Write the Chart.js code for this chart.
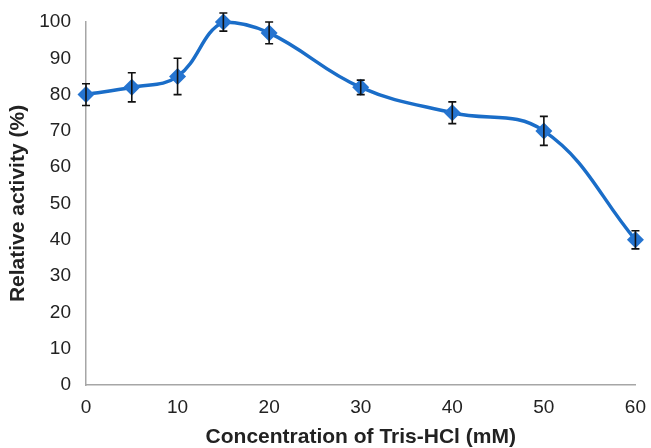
<!DOCTYPE html>
<html>
<head>
<meta charset="utf-8">
<script src="https://cdn.jsdelivr.net/npm/chart.js@4.4.0/dist/chart.umd.min.js"></script>
<style>
    html, body { margin: 0; padding: 0; background: #fff; }
    #wrap { width: 651px; height: 448px; }
</style>
</head>
<body>
<div id="wrap"><canvas id="activityChart" width="651" height="448"></canvas></div>
<script>
// Data
const concentrations = [0, 5, 10, 15, 20, 30, 40, 50, 60];
const activity = [80, 82, 85, 100, 97, 82, 75, 70, 40];
const errors = [3, 4, 5, 2.5, 3, 2, 3, 4, 2.5];
const xTicks = [0, 10, 20, 30, 40, 50, 60];

const lineColor = '#1a6dc8';
const axisColor = '#a6a6a6';
const textColor = '#222';

// Error bars drawn through the chart's own scales
const errorBarPlugin = {
    id: 'errorBars',
    afterDatasetsDraw(chart) {
        const { ctx, scales: { x, y } } = chart;
        ctx.save();
        ctx.strokeStyle = '#111';
        ctx.lineWidth = 1.6;
        concentrations.forEach((c, i) => {
            const px = x.getPixelForValue(c);
            const top = y.getPixelForValue(activity[i] + errors[i]);
            const bottom = y.getPixelForValue(activity[i] - errors[i]);
            ctx.beginPath();
            ctx.moveTo(px, top);
            ctx.lineTo(px, bottom);
            ctx.moveTo(px - 4, top);
            ctx.lineTo(px + 4, top);
            ctx.moveTo(px - 4, bottom);
            ctx.lineTo(px + 4, bottom);
            ctx.stroke();
        });
        ctx.restore();
    }
};

new Chart(document.getElementById('activityChart').getContext('2d'), {
    type: 'scatter',
    data: {
        datasets: [{
            data: concentrations.map((c, i) => ({ x: c, y: activity[i] })),
            showLine: true,
            clip: false,
            tension: 0.4,
            borderColor: lineColor,
            borderWidth: 3.5,
            backgroundColor: lineColor,
            pointStyle: 'rectRot',
            pointRadius: 8.5,
            pointBorderWidth: 0,
            pointBackgroundColor: '#2574d0',
        }],
    },
    options: {
        responsive: false,
        animation: false,
        layout: { padding: { left: 0, right: 11, top: 22, bottom: 0 } },
        plugins: {
            legend: { display: false },
            tooltip: { enabled: false },
        },
        scales: {
            x: {
                type: 'linear',
                min: 0,
                max: 60,
                afterBuildTicks: (axis) => { axis.ticks = xTicks.map((v) => ({ value: v })); },
                afterFit: (axis) => { axis.height = 63; },
                grid: { display: false, drawOnChartArea: false, drawTicks: true, tickLength: 6, tickColor: axisColor },
                border: { color: axisColor, width: 1.5 },
                ticks: {
                    padding: 5,
                    color: textColor,
                    font: { family: 'Liberation Sans, Arial', size: 19 },
                },
                title: {
                    display: true,
                    text: 'Concentration of Tris-HCl (mM)',
                    color: textColor,
                    font: { family: 'Liberation Sans, Arial', size: 21, weight: 'bold', lineHeight: 1 },
                    padding: { top: 0, bottom: 0 },
                },
            },
            y: {
                min: 0,
                max: 100,
                ticks: {
                    stepSize: 10,
                    padding: 10,
                    color: textColor,
                    font: { family: 'Liberation Sans, Arial', size: 19 },
                },
                afterFit: (axis) => { axis.width = 86; },
                grid: { display: false, drawOnChartArea: false, drawTicks: true, tickLength: 5, tickColor: axisColor },
                border: { color: axisColor, width: 1.5 },
                title: {
                    display: true,
                    text: 'Relative activity (%)',
                    color: textColor,
                    font: { family: 'Liberation Sans, Arial', size: 21, weight: 'bold', lineHeight: 1 },
                    padding: { top: 7.5, bottom: 0 },
                },
            },
        },
    },
    plugins: [errorBarPlugin],
});
</script>
</body>
</html>
